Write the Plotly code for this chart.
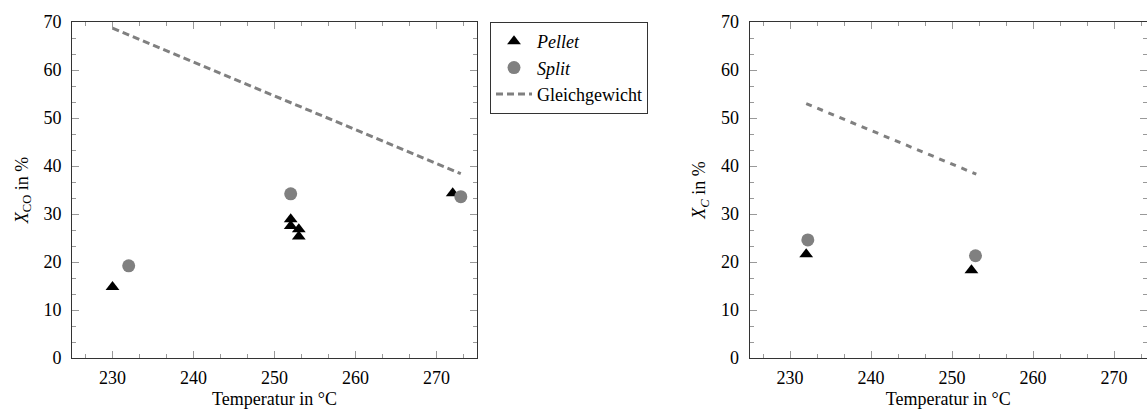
import plotly.graph_objects as go

# Left panel data (X_CO)
pellet_T_left = [230, 252, 252, 253, 253, 272]
pellet_X_left = [14.8, 28.9, 27.5, 26.8, 25.3, 34.3]
split_T_left = [232, 252, 273]
split_X_left = [19.2, 34.2, 33.6]
eq_T_left = [230, 273]
eq_X_left = [68.7, 38.4]

# Right panel data (X_C)
pellet_T_right = [232, 252.4]
pellet_X_right = [21.6, 18.3]
split_T_right = [232.2, 252.9]
split_X_right = [24.6, 21.3]
eq_T_right = [232, 253]
eq_X_right = [53.0, 38.3]

x_ticks = [230, 240, 250, 260, 270]
y_ticks = [0, 10, 20, 30, 40, 50, 60, 70]

FONT = "Liberation Serif"
FS = 18
GRAY = "#808080"
W, H = 1147, 409
ML, MT, MB = 72, 22, 51
PW = W - ML

fig = go.Figure()

def add_panel(xa, ya, pT, pX, sT, sX, eT, eX, dash, show):
    fig.add_trace(go.Scatter(x=pT, y=pX, mode="markers", name="<i>Pellet</i>",
                             marker=dict(symbol="triangle-up", size=12, color="black"),
                             xaxis=xa, yaxis=ya, showlegend=show, legendrank=1))
    fig.add_trace(go.Scatter(x=sT, y=sX, mode="markers", name="<i>Split</i>",
                             marker=dict(symbol="circle", size=13, color=GRAY),
                             xaxis=xa, yaxis=ya, showlegend=show, legendrank=2))
    fig.add_trace(go.Scatter(x=eT, y=eX, mode="lines", name="Gleichgewicht",
                             line=dict(color=GRAY, width=3, dash=dash),
                             xaxis=xa, yaxis=ya, showlegend=show, legendrank=3))

add_panel("x", "y", pellet_T_left, pellet_X_left, split_T_left, split_X_left,
          eq_T_left, eq_X_left, "7px,4px", True)
add_panel("x2", "y2", pellet_T_right, pellet_X_right, split_T_right, split_X_right,
          eq_T_right, eq_X_right, "6px,6px", False)

axis_common = dict(
    showgrid=False, zeroline=False, showline=True, linecolor="#333", linewidth=1,
    mirror="ticks", ticks="inside", ticklen=7, tickcolor="#999", tickwidth=1,
    tickfont=dict(family=FONT, size=FS, color="black"),
    automargin=False,
)
minor_x = dict(dtick=10 / 3, tick0=230, ticks="inside", ticklen=4, tickcolor="#999")
minor_y = dict(dtick=10 / 3, tick0=0, ticks="inside", ticklen=4, tickcolor="#999")

xr_left = [225, 275]
x2_start = (749.5 - ML) / PW
xr_right = [225, 225 + (W - 749.5) / 8.1]

fig.update_layout(
    width=W, height=H,
    margin=dict(l=ML, r=0, t=MT, b=MB, pad=0),
    plot_bgcolor="white", paper_bgcolor="white",
    font=dict(family=FONT, size=FS, color="black"),
    xaxis=dict(domain=[0, (477 - ML) / PW], range=xr_left, tickvals=x_ticks, minor=minor_x,
               title=dict(text="Temperatur in °C", font=dict(family=FONT, size=FS), standoff=6),
               ticklabelstandoff=3, anchor="y", **axis_common),
    yaxis=dict(domain=[0, 1], range=[0, 70], tickvals=y_ticks, minor=minor_y,
               title=dict(text="<i>X</i><sub>CO</sub> in %", font=dict(family=FONT, size=FS), standoff=10),
               ticklabelstandoff=6, anchor="x", **axis_common),
    xaxis2=dict(domain=[x2_start, 1], range=xr_right, tickvals=x_ticks, minor=minor_x,
                title=dict(text="Temperatur in °C", font=dict(family=FONT, size=FS), standoff=6),
                ticklabelstandoff=3, anchor="y2", **axis_common),
    yaxis2=dict(domain=[0, 1], range=[0, 70], tickvals=y_ticks, minor=minor_y,
                title=dict(text="<i>X<sub>C</sub></i> in %", font=dict(family=FONT, size=FS), standoff=10),
                ticklabelstandoff=6, anchor="x2", **axis_common),
    legend=dict(x=(490 - ML) / PW, y=1, xanchor="left", yanchor="top",
                bordercolor="#333", borderwidth=1, bgcolor="white",
                font=dict(family=FONT, size=18), tracegroupgap=0, itemwidth=36),
)

fig.write_html("out.html")
